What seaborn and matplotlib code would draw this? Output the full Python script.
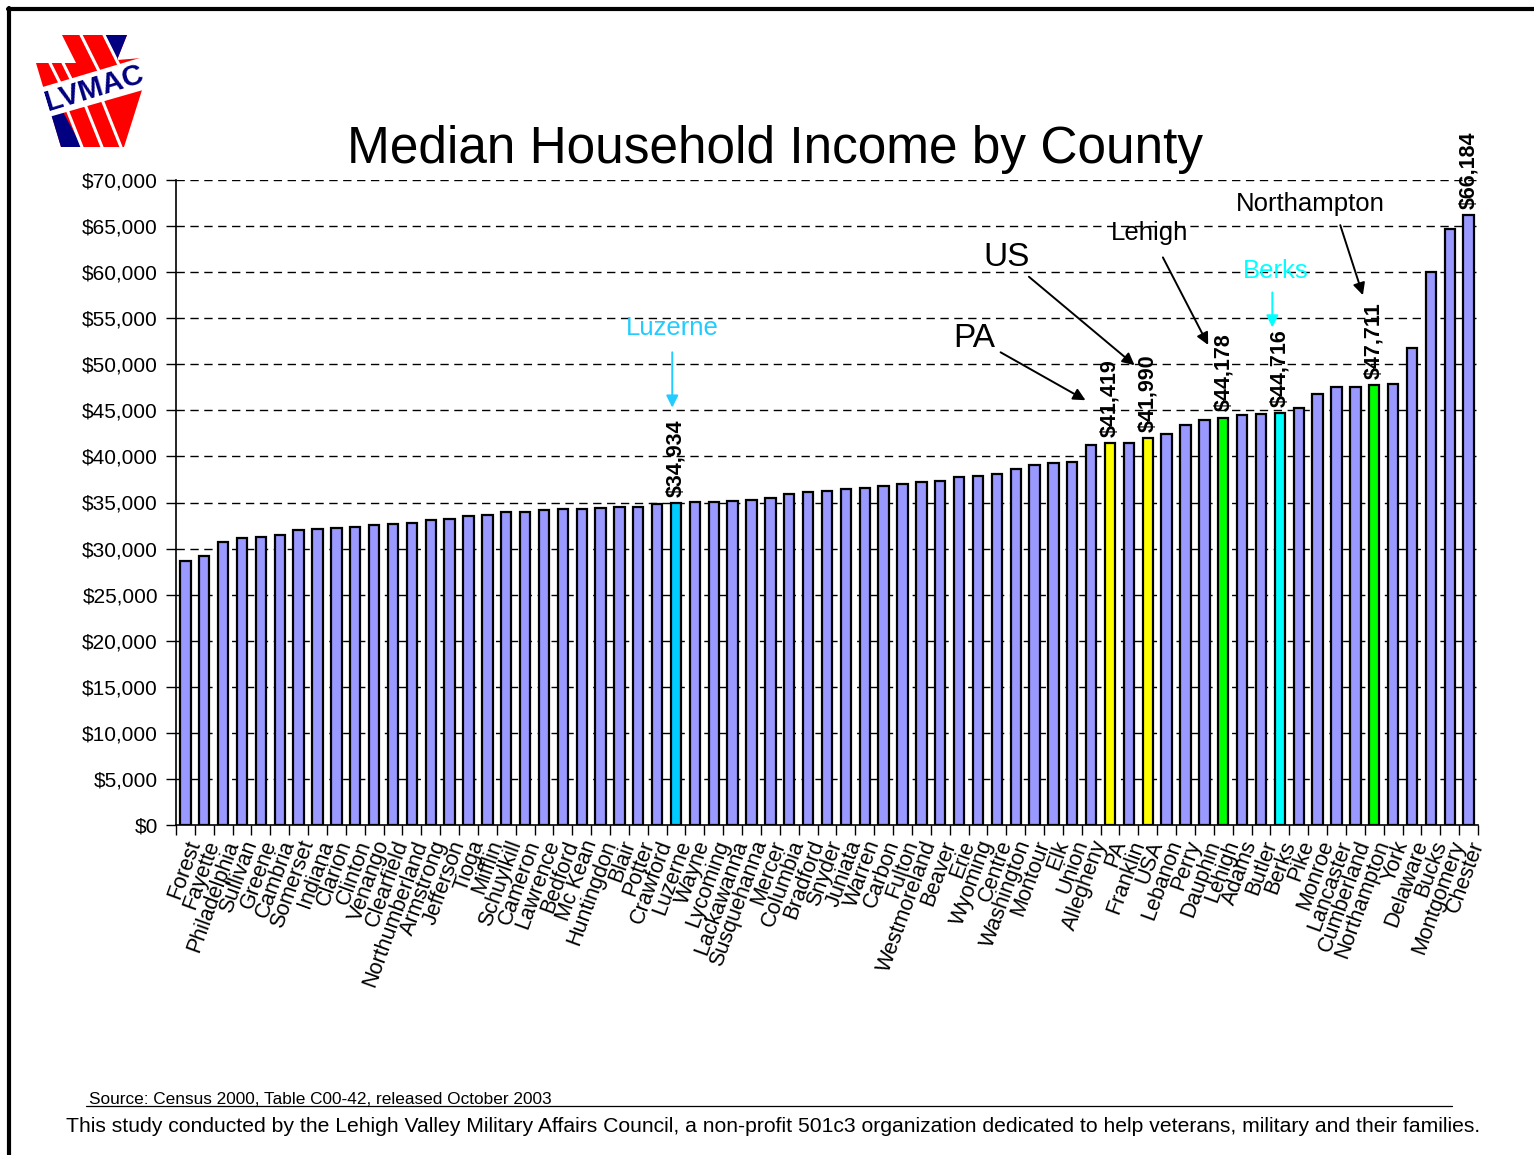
import numpy as np
import pandas as pd
import matplotlib
matplotlib.use("Agg")
import matplotlib.pyplot as plt
from matplotlib.patches import Polygon
from matplotlib.lines import Line2D
import seaborn as sns

counties = ["Forest", "Fayette", "Philadelphia", "Sullivan", "Greene", "Cambria",
            "Somerset", "Indiana", "Clarion", "Clinton", "Venango", "Clearfield",
            "Northumberland", "Armstrong", "Jefferson", "Tioga", "Mifflin",
            "Schuylkill", "Cameron", "Lawrence", "Bedford", "Mc Kean", "Huntingdon",
            "Blair", "Potter", "Crawford", "Luzerne", "Wayne", "Lycoming",
            "Lackawanna", "Susquehanna", "Mercer", "Columbia", "Bradford", "Snyder",
            "Juniata", "Warren", "Carbon", "Fulton", "Westmoreland", "Beaver", "Erie",
            "Wyoming", "Centre", "Washington", "Montour", "Elk", "Union", "Allegheny",
            "PA", "Franklin", "USA", "Lebanon", "Perry", "Dauphin", "Lehigh", "Adams",
            "Butler", "Berks", "Pike", "Monroe", "Lancaster", "Cumberland",
            "Northampton", "York", "Delaware", "Bucks", "Montgomery", "Chester"]

income = [28600, 29200, 30700, 31100, 31250, 31450, 32000, 32100, 32200, 32300,
          32550, 32650, 32800, 33100, 33200, 33500, 33600, 34000, 34000, 34150,
          34250, 34300, 34400, 34500, 34500, 34800, 34934, 35100, 35100, 35200,
          35300, 35500, 35900, 36100, 36300, 36500, 36600, 36800, 37000, 37200,
          37300, 37800, 37900, 38100, 38600, 39100, 39300, 39400, 41200, 41419,
          41500, 41990, 42400, 43400, 43900, 44178, 44500, 44600, 44716, 45300,
          46800, 47500, 47500, 47711, 47900, 51750, 60000, 64700, 66184]

highlight_colors = {"Luzerne": "#00CCFF", "Berks": "#00FFFF",
                    "PA": "#FFFF00", "USA": "#FFFF00",
                    "Lehigh": "#00FF00", "Northampton": "#00FF00"}
labelled = ["Luzerne", "PA", "USA", "Lehigh", "Berks", "Northampton", "Chester"]

base_color = "#9999FF"
palette = {c: highlight_colors.get(c, base_color) for c in counties}

df = pd.DataFrame({"County": counties, "Income": income})

sns.set_style("white")
plt.rcParams["font.family"] = ["Liberation Sans", "DejaVu Sans"]
plt.rcParams.update({"text.color": "black", "axes.labelcolor": "black",
                     "xtick.color": "black", "ytick.color": "black"})

W, H = 1534, 1155
fig = plt.figure(figsize=(W / 100, H / 100), dpi=100)


def fx(px):
    return px / W


def fy(py):
    return 1 - py / H


ax = fig.add_axes([fx(176), fy(825), fx(1478) - fx(176), fy(180) - fy(825)])

sns.barplot(data=df, x="County", y="Income", hue="County", palette=palette,
            order=counties, hue_order=counties, dodge=False, legend=False,
            width=0.55, edgecolor="black", linewidth=1.6, saturation=1, ax=ax)

ax.set_xlim(-0.5, len(counties) - 0.5)
ax.set_ylim(0, 70000)
yt = np.arange(0, 70001, 5000)
ax.set_yticks(yt)
ax.set_yticklabels([f"${v:,}" for v in yt], fontsize=15)
for v in yt[1:]:
    ax.axhline(v, color="black", lw=1, ls=(0, (6, 4)), zorder=0)

ax.set_xticks(range(len(counties)))
ax.set_xticklabels(counties, rotation=70, ha="right", rotation_mode="anchor",
                   fontsize=15.5)
ax.set_xticks(np.arange(-0.5, len(counties), 1), minor=True)
ax.tick_params(axis="x", which="major", length=0, pad=9)
ax.tick_params(axis="x", which="minor", length=7, width=1, color="black",
               direction="out", bottom=True)
ax.tick_params(axis="y", length=7, width=1, color="black", direction="out",
               left=True, pad=6)
ax.set_xlabel("")
ax.set_ylabel("")
for s in ["top", "right"]:
    ax.spines[s].set_visible(False)
for s in ["left", "bottom"]:
    ax.spines[s].set_color("black")
    ax.spines[s].set_linewidth(1.2)

# value labels above the highlighted bars
for name in labelled:
    i = counties.index(name)
    v = income[i]
    ax.text(i, v + 700, f"${v:,}", rotation=90, ha="center", va="bottom",
            fontsize=15.5, fontweight="bold", color="black")

# callouts
arrow_kw = dict(arrowstyle="-|>", lw=1.4, mutation_scale=18, shrinkA=0, shrinkB=0)
callouts = [
    ("Luzerne", (25.8, 53900), (25.8, 51300), (25.8, 45300), "#22CCFF", 18.5),
    ("PA", (41.8, 52800), (43.2, 51300), (47.7, 46100), "black", 24),
    ("US", (43.5, 61600), (44.7, 59500), (50.3, 49900), "black", 24),
    ("Lehigh", (51.1, 64200), (51.8, 61600), (54.2, 52100), "black", 18.5),
    ("Berks", (57.8, 60100), (57.6, 57800), (57.6, 54000), "#00FFFF", 18.5),
    ("Northampton", (59.6, 67400), (61.2, 65100), (62.4, 57500), "black", 18.5),
]
for text, tpos, a0, a1, col, fs in callouts:
    ax.text(tpos[0], tpos[1], text, ha="center", va="center", fontsize=fs,
            color=col)
    ax.annotate("", xy=a1, xytext=a0,
                arrowprops=dict(color=col, **arrow_kw))

fig.text(fx(775), fy(150), "Median Household Income by County", ha="center",
         va="center", fontsize=37)

# footer
fig.text(fx(89), fy(1099), "Source: Census 2000, Table C00-42, released October 2003",
         ha="left", va="center", fontsize=12.4)
fig.add_artist(Line2D([fx(86), fx(1452)], [fy(1106), fy(1106)], color="black",
                      lw=0.9, transform=fig.transFigure))
fig.text(fx(66), fy(1126),
         "This study conducted by the Lehigh Valley Military Affairs Council, "
         "a non-profit 501c3 organization dedicated to help veterans, military "
         "and their families.", ha="left", va="center", fontsize=15.2)

# frame
fig.add_artist(Line2D([fx(9), fx(9)], [fy(8), fy(1160)], color="black", lw=3,
                      transform=fig.transFigure))
fig.add_artist(Line2D([fx(8), fx(1540)], [fy(9), fy(9)], color="black", lw=3,
                      transform=fig.transFigure))


# LVMAC keystone emblem
def poly(pts, **kw):
    p = Polygon([(fx(x), fy(y)) for x, y in pts], closed=True,
                transform=fig.transFigure, **kw)
    fig.add_artist(p)
    return p


def gap(x0, y0, slope, dy, clip):
    ln = Line2D([fx(x0), fx(x0 + slope * dy)], [fy(y0), fy(y0 + dy)],
                color="white", lw=2.2, transform=fig.transFigure)
    fig.add_artist(ln)
    ln.set_clip_path(clip)


red, navy = "#FF0000", "#000080"
keystone = [(36, 63), (76, 63), (62, 35), (127, 35), (117, 60), (142, 58),
            (142, 90), (124, 147), (61, 147)]
clip = poly(keystone, facecolor=red, edgecolor="none")
# white seams between the stripes above the band
for x0, y0, dy in [(81, 35, 45), (104, 35, 30), (50, 63, 30), (63, 63, 25)]:
    gap(x0, y0, 0.5, dy, clip)
# white seams between the stripes below the band
for x0, y0, dy in [(82, 147, -40), (102, 147, -48), (121, 147, -58)]:
    gap(x0, y0, 0.4, dy, clip)
poly([(105, 35), (127, 35), (117, 60)], facecolor=navy, edgecolor="none")
poly([(51, 114), (62, 110), (82, 147), (61, 147)], facecolor=navy, edgecolor="none")
poly([(36, 89), (143, 57), (143, 90), (42, 119)], facecolor="white", edgecolor="none")
fig.text(fx(94), fy(89), "LVMAC", rotation=17, ha="center", va="center",
         fontsize=21, fontweight="bold", color=navy)

fig.savefig("out.png", dpi=100, facecolor="white")
